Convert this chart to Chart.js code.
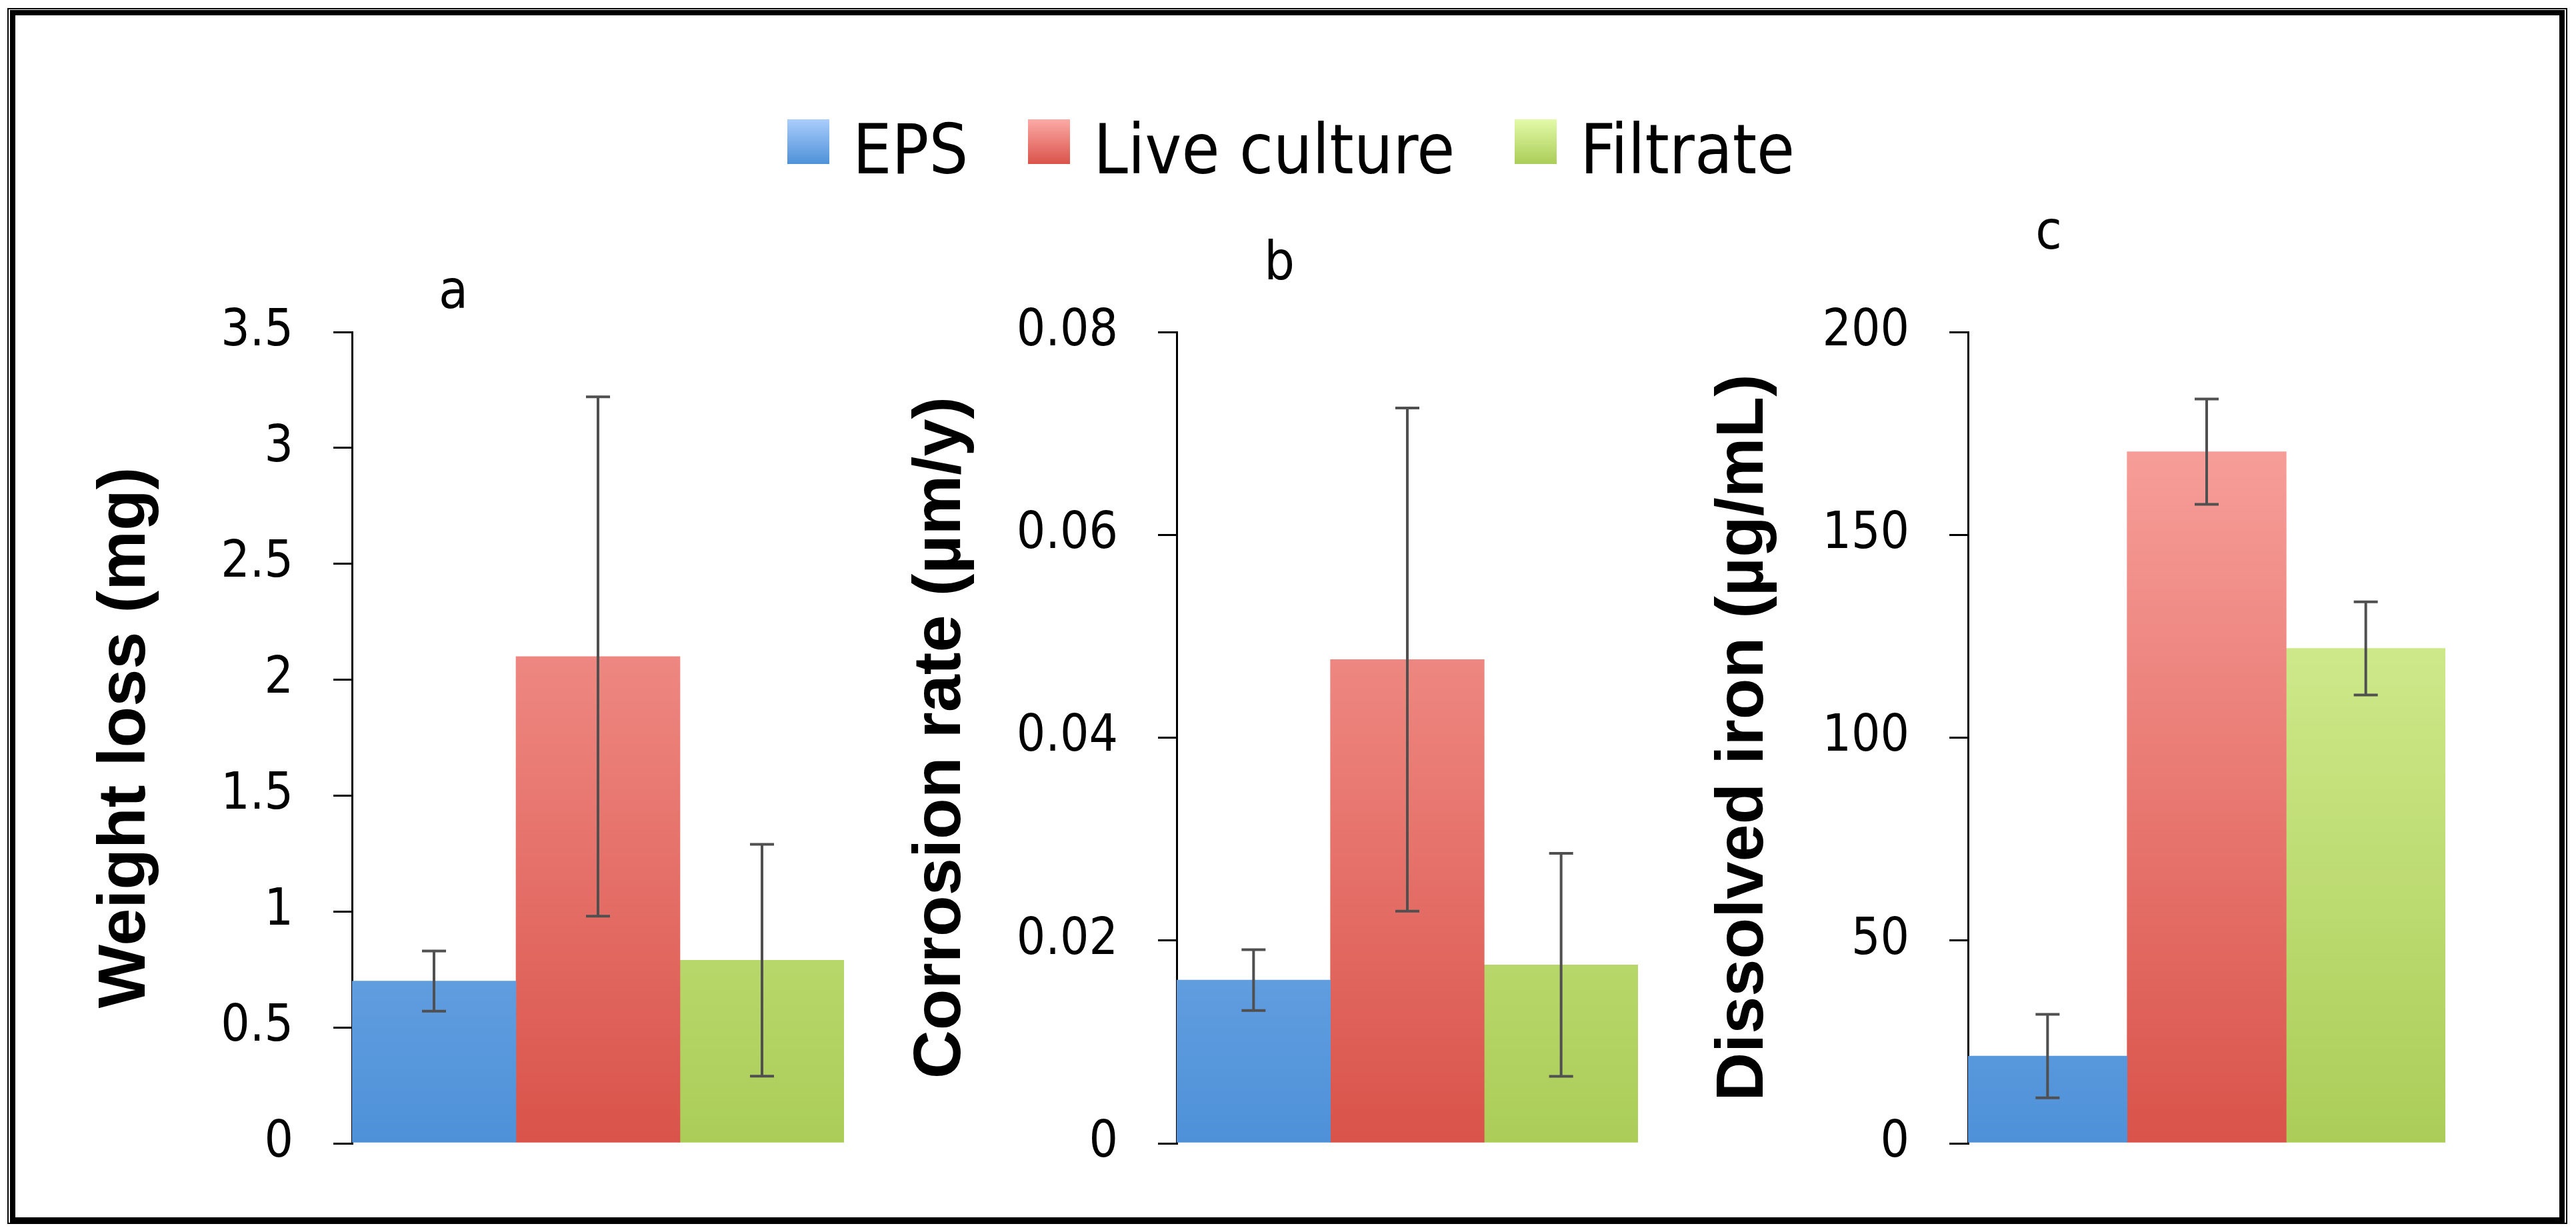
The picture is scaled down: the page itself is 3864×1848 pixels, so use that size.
<!DOCTYPE html>
<html>
<head>
<meta charset="utf-8">
<script src="https://cdn.jsdelivr.net/npm/chart.js@4.4.1/dist/chart.umd.min.js"></script>
<style>
  body { margin: 0; background: #fff; width: 3864px; height: 1848px; position: relative; overflow: hidden;
         font-family: 'DejaVu Sans Condensed', 'DejaVu Sans', sans-serif; }
  #outer { position: absolute; left: 11px; top: 12px; width: 3836px; height: 1820px; border: 2px solid #000; }
  #inner { position: absolute; left: 15px; top: 15px; width: 3816px; height: 1803px; border: 8px solid #000; }
  canvas { position: absolute; }
  #legend { position: absolute; left: 1181px; top: 173px; display: flex; align-items: flex-start;
            font-size: 103px; line-height: 103px; color: #000; }
  .sq { width: 63px; height: 67px; margin-top: 6px; margin-right: 35px; }
  .txt { margin-right: 90px; white-space: nowrap; }
  .panel-label { position: absolute; width: 200px; text-align: center; font-size: 80px; line-height: 80px; color: #000; }
</style>
</head>
<body>
<div id="outer"></div>
<div id="inner"></div>
<div id="legend"></div>
<div class="panel-label" style="left:580px; top:395px;">a</div>
<div class="panel-label" style="left:1819px; top:352px;">b</div>
<div class="panel-label" style="left:2973px; top:306px;">c</div>
<canvas id="chartA" width="1166" height="1334" style="left:100px; top:438px;"></canvas>
<canvas id="chartB" width="1157" height="1334" style="left:1300px; top:438px;"></canvas>
<canvas id="chartC" width="1168" height="1334" style="left:2500px; top:438px;"></canvas>
<script>
const seriesNames = ['EPS', 'Live culture', 'Filtrate'];
const topColors = ['#aacdfc', '#fcaaa6', '#e3faa9'];
const bottomColors = ['#4e91d8', '#d9534a', '#abcd58'];

// a - weight loss (mg)
const weightLoss = [0.70, 2.10, 0.79];
const weightLossErr = [0.13, 1.12, 0.50];
const weightTicks = [0, 0.5, 1, 1.5, 2, 2.5, 3, 3.5];

// b - corrosion rate (µm/y)
const corrosion = [0.0161, 0.0477, 0.0176];
const corrosionErr = [0.003, 0.0248, 0.011];
const corrosionTicks = [0, 0.02, 0.04, 0.06, 0.08];

// c - dissolved iron (µg/mL)
const iron = [21.5, 170.5, 122];
const ironErr = [10.3, 13, 11.5];
const ironTicks = [0, 50, 100, 150, 200];

Chart.defaults.font.family = "'DejaVu Sans Condensed', 'DejaVu Sans', sans-serif";
Chart.defaults.color = '#000';

// legend
let legend = document.getElementById('legend');
for (let i = 0; i < seriesNames.length; i++) {
    let sq = document.createElement('div');
    sq.className = 'sq';
    sq.style.background = `linear-gradient(${topColors[i]}, ${bottomColors[i]})`;
    let txt = document.createElement('div');
    txt.className = 'txt';
    txt.textContent = seriesNames[i];
    legend.appendChild(sq);
    legend.appendChild(txt);
}

function gradient(i) {
    return function (ctx) {
        const area = ctx.chart.chartArea;
        if (!area) return topColors[i];
        const g = ctx.chart.ctx.createLinearGradient(0, area.top, 0, area.bottom);
        g.addColorStop(0, topColors[i]);
        g.addColorStop(1, bottomColors[i]);
        return g;
    };
}

const errorBars = {
    id: 'errorBars',
    afterDatasetsDraw(chart) {
        const errs = chart.options.plugins.errorBars.errors;
        const y = chart.scales.y;
        const c = chart.ctx;
        c.save();
        c.strokeStyle = '#505050';
        c.lineWidth = 4;
        chart.data.datasets.forEach((ds, i) => {
            const bar = chart.getDatasetMeta(i).data[0];
            const v = ds.data[0];
            const top = y.getPixelForValue(v + errs[i]);
            const bot = y.getPixelForValue(v - errs[i]);
            c.beginPath();
            c.moveTo(bar.x, top); c.lineTo(bar.x, bot);
            c.moveTo(bar.x - 18, top); c.lineTo(bar.x + 18, top);
            c.moveTo(bar.x - 18, bot); c.lineTo(bar.x + 18, bot);
            c.stroke();
        });
        c.restore();
    }
};

function makeChart(id, values, errs, ticks, title, axisWidth, titlePad) {
    new Chart(document.getElementById(id), {
        type: 'bar',
        data: {
            labels: [''],
            datasets: seriesNames.map((name, i) => ({
                label: name,
                data: [values[i]],
                backgroundColor: gradient(i),
                borderWidth: 0,
                barPercentage: 1,
                categoryPercentage: 1
            }))
        },
        options: {
            responsive: false,
            animation: false,
            devicePixelRatio: 1,
            layout: { padding: { top: 60, bottom: 57, left: 0, right: 0 } },
            plugins: {
                legend: { display: false },
                tooltip: { enabled: false },
                errorBars: { errors: errs }
            },
            scales: {
                x: { display: false },
                y: {
                    min: ticks[0],
                    max: ticks[ticks.length - 1],
                    afterBuildTicks: axis => { axis.ticks = ticks.map(v => ({ value: v })); },
                    afterFit: axis => {
                        axis.width = axisWidth;
                        axis.paddingTop = 0;
                        axis.paddingBottom = 0;
                    },
                    ticks: {
                        font: { size: 76 },
                        padding: 60,
                        callback: v => String(+v.toFixed(4))
                    },
                    grid: { drawOnChartArea: false, drawTicks: true, tickLength: 28, color: '#000', lineWidth: 3 },
                    border: { display: true, color: '#000', width: 3 },
                    title: {
                        display: true,
                        text: title,
                        font: { family: "'Liberation Sans', Arial, sans-serif", size: 101, weight: 'bold' },
                        padding: { top: titlePad, bottom: 0 }
                    }
                }
            }
        },
        plugins: [errorBars]
    });
}

makeChart('chartA', weightLoss, weightLossErr, weightTicks, 'Weight loss (mg)', 428, 29);
makeChart('chartB', corrosion, corrosionErr, corrosionTicks, 'Corrosion rate (µm/y)', 465, 52);
makeChart('chartC', iron, ironErr, ironTicks, 'Dissolved iron (µg/mL)', 452, 56);
</script>
</body>
</html>
